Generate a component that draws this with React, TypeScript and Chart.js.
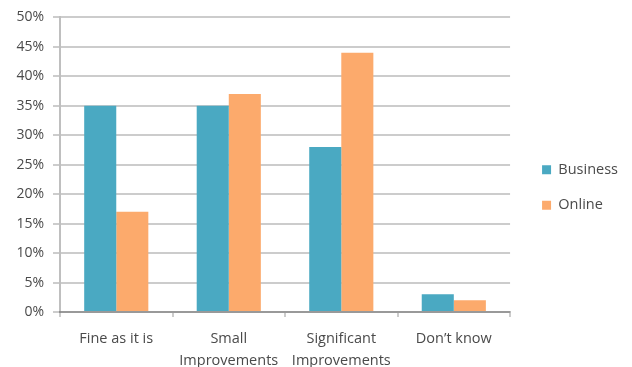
import React, { useEffect, useRef } from "react";
import { Chart, registerables } from "chart.js";

Chart.register(...registerables);

const categories: (string | string[])[] = [
  "Fine as it is",
  ["Small", "Improvements"],
  ["Significant", "Improvements"],
  "Don\u2019t know",
];
const businessValues = [35, 35, 28, 3];
const onlineValues = [17, 37, 44, 2];
const seriesNames = ["Business", "Online"];

const FONT = "'Open Sans', 'DejaVu Sans', sans-serif";
const TEXT = "#4a4a4a";
const GRID = "rgba(0,0,0,0.2)";

// Push the legend a little further right of the plot area.
const legendShift = {
  id: "legendShift",
  afterLayout(chart: any) {
    const lg = chart.legend;
    if (lg) {
      lg.left += 11;
      lg.right += 11;
    }
  },
};

export default function App() {
  const ref = useRef<HTMLCanvasElement | null>(null);

  useEffect(() => {
    if (!ref.current) return;
    const chart = new Chart(ref.current, {
      type: "bar",
      data: {
        labels: categories,
        datasets: [
          {
            label: seriesNames[0],
            data: businessValues,
            backgroundColor: "#4aa9c2",
            categoryPercentage: 0.57,
            barPercentage: 1,
          },
          {
            label: seriesNames[1],
            data: onlineValues,
            backgroundColor: "#fcaa6c",
            categoryPercentage: 0.57,
            barPercentage: 1,
          },
        ],
      },
      plugins: [legendShift],
      options: {
        animation: false,
        responsive: false,
        maintainAspectRatio: false,
        layout: { padding: { top: 8, right: 15, bottom: 0, left: 0 } },
        plugins: {
          tooltip: { enabled: false },
          legend: {
            position: "right",
            labels: {
              boxWidth: 9,
              boxHeight: 9,
              padding: 21,
              color: TEXT,
              font: { family: FONT, size: 14.5 },
            },
          },
        },
        scales: {
          x: {
            z: 1,
            grid: {
              display: true,
              drawOnChartArea: false,
              drawTicks: true,
              tickLength: 5,
              color: GRID,
              lineWidth: 2,
            },
            border: { display: true, color: "rgba(0,0,0,0.25)", width: 2 },
            ticks: {
              color: TEXT,
              font: { family: FONT, size: 14.5, lineHeight: 1.5 },
              padding: 11,
              maxRotation: 0,
              autoSkip: false,
            },
            afterFit: (s: any) => {
              s.height = 55;
            },
          },
          y: {
            z: 1,
            min: 0,
            max: 50,
            ticks: {
              stepSize: 5,
              color: TEXT,
              font: { family: FONT, size: 14 },
              padding: 9,
              callback: (v: any) => v + "%",
            },
            grid: {
              color: GRID,
              lineWidth: 2,
              tickLength: 7,
            },
            border: { display: true, color: "rgba(0,0,0,0.25)", width: 2 },
            afterFit: (s: any) => {
              s.width = 60;
            },
          },
        },
      },
    });
    return () => chart.destroy();
  }, []);

  return (
    <div style={{ position: "fixed", left: 0, top: 0, width: 632, height: 367, background: "#fff" }}>
      <canvas ref={ref} width={632} height={367} style={{ width: 632, height: 367 }} />
    </div>
  );
}
